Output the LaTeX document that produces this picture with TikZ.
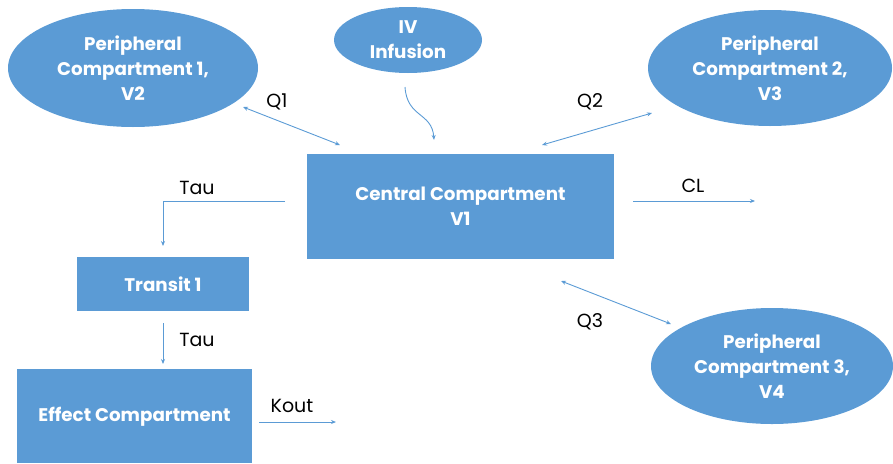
\documentclass[tikz,border=0pt]{standalone}
\usepackage{fontspec}
\setmainfont{Poppins}
\usetikzlibrary{shapes.geometric,arrows.meta}
\definecolor{boxblue}{HTML}{5B9BD5}
\definecolor{linkblue}{HTML}{5B9BD5}
\tikzset{
  comp/.style={fill=boxblue, draw=none, text=white, font=\fontsize{18.3}{25}\selectfont\bfseries, align=center, inner sep=0pt},
  ell/.style={comp, ellipse},
  rbox/.style={comp, rectangle},
  lnk/.style={draw=linkblue, line width=0.9pt, -{Stealth[length=5pt,width=4pt]}},
  dlnk/.style={draw=linkblue, line width=0.9pt, {Stealth[length=5pt,width=4pt]}-{Stealth[length=5pt,width=4pt]}},
  lab/.style={font=\fontsize{19}{21}\selectfont, text=black, inner sep=0pt}
}
\begin{document}
\begin{tikzpicture}[x=1pt,y=-1pt]
\useasboundingbox (0,0) rectangle (893,463);
\node[ell, minimum width=250, minimum height=118] (pc1) at (133,68) {Peripheral\\Compartment 1,\\V2};
\node[ell, minimum width=148, minimum height=66] (iv) at (408,40) {IV\\Infusion};
\node[ell, minimum width=244, minimum height=116] (pc2) at (770,68) {Peripheral\\Compartment 2,\\V3};
\node[ell, minimum width=242, minimum height=116] (pc3) at (772,366) {Peripheral\\Compartment 3,\\V4};
\node[rbox, minimum width=307, minimum height=105] (cen) at (460.5,206.5) {Central Compartment\\V1};
\node[rbox, minimum width=172, minimum height=54] (tr) at (163,284) {Transit 1};
\path[fill=boxblue] (17,369) rectangle (252,463);
\node[comp, anchor=center] (eff) at (134.5,417) {Effect Compartment};
% coordinates
\coordinate (q1a) at (243,107);
\coordinate (q1b) at (340,145);
\coordinate (iva) at (405,87);
\coordinate (ivb) at (434,140);
\coordinate (q2a) at (542,145);
\coordinate (q2b) at (652,113);
\coordinate (cla) at (633,201);
\coordinate (clb) at (755,201);
\coordinate (ta) at (285,201);
\coordinate (tc) at (163,201);
\coordinate (tb) at (163,246);
\coordinate (t2a) at (163,323);
\coordinate (t2b) at (163,364);
\coordinate (ka) at (259,422);
\coordinate (kb) at (336,422);
\coordinate (q3a) at (561,281);
\coordinate (q3b) at (671,324);
\draw[dlnk] (q1a) -- (q1b);
\draw[lnk] (iva) .. controls (407,118) and (432,112) .. (ivb);
\draw[dlnk] (q2a) -- (q2b);
\draw[lnk] (cla) -- (clb);
\draw[lnk] (ta) -- (tc) -- (tb);
\draw[lnk] (t2a) -- (t2b);
\draw[lnk] (ka) -- (kb);
\draw[dlnk] (q3a) -- (q3b);
% labels
\node[lab] (lq1) at (277,102) {Q1};
\node[lab] (lq2) at (590,102) {Q2};
\node[lab] (lcl) at (693,186) {CL};
\node[lab] (lt1) at (197,188) {Tau};
\node[lab] (lt2) at (197,340) {Tau};
\node[lab] (lk) at (292,406) {Kout};
\node[lab] (lq3) at (590,322) {Q3};
\end{tikzpicture}
\end{document}
